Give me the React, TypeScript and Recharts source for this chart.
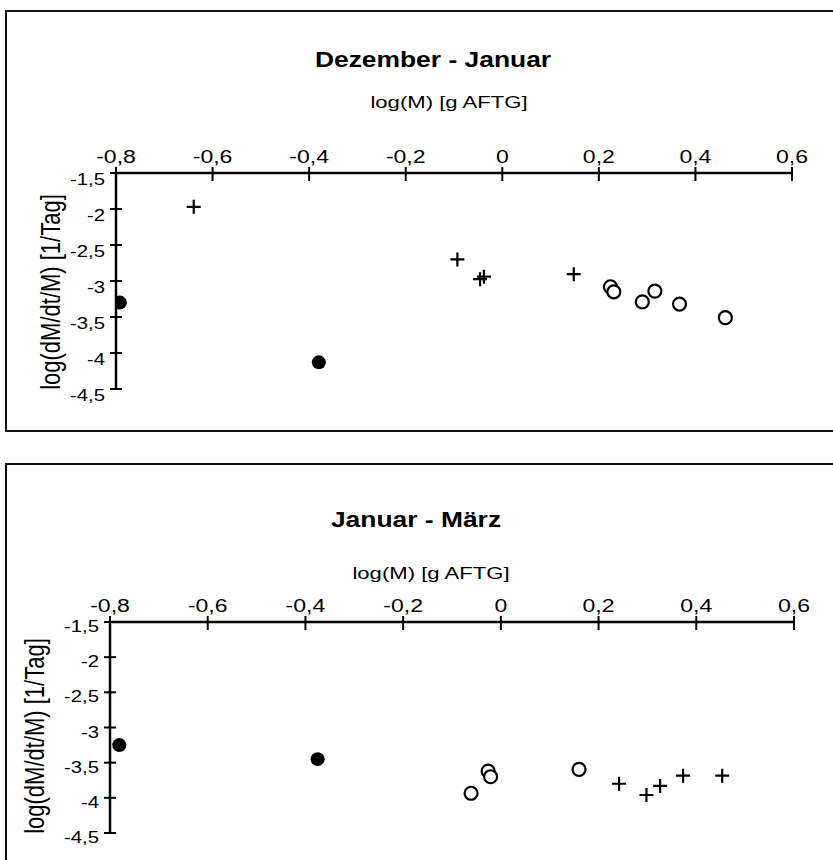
import React from 'react';
import { ScatterChart, Scatter, XAxis, YAxis } from 'recharts';

const xTicks = [-0.8, -0.6, -0.4, -0.2, 0, 0.2, 0.4, 0.6];
const yTicks = [-4.5, -4, -3.5, -3, -2.5, -2, -1.5];
const xTitle = 'log(M) [g AFTG]';
const yTitle = 'log(dM/dt/M) [1/Tag]';

// Dezember - Januar
const decFilled = [
  { x: -0.792, y: -3.3 },
  { x: -0.38, y: -4.13 },
];
const decCross = [
  { x: -0.639, y: -1.97 },
  { x: -0.093, y: -2.7 },
  { x: -0.046, y: -2.975 },
  { x: -0.038, y: -2.94 },
  { x: 0.148, y: -2.905 },
];
const decOpen = [
  { x: 0.224, y: -3.08 },
  { x: 0.231, y: -3.15 },
  { x: 0.29, y: -3.29 },
  { x: 0.316, y: -3.14 },
  { x: 0.367, y: -3.32 },
  { x: 0.462, y: -3.51 },
];

// Januar - März
const janFilled = [
  { x: -0.781, y: -3.25 },
  { x: -0.375, y: -3.45 },
];
const janOpen = [
  { x: -0.061, y: -3.935 },
  { x: -0.026, y: -3.62 },
  { x: -0.021, y: -3.7 },
  { x: 0.16, y: -3.595 },
];
const janCross = [
  { x: 0.242, y: -3.8 },
  { x: 0.298, y: -3.96 },
  { x: 0.326, y: -3.83 },
  { x: 0.373, y: -3.685 },
  { x: 0.453, y: -3.685 },
];

const FONT = '"Liberation Sans", Arial, Helvetica, sans-serif';
const fmt = (v: number) => String(v).replace('.', ',');

const XTick = (props: any) => {
  const { x, y, payload } = props;
  return (
    <g>
      <line x1={x} x2={x} y1={y - 6} y2={y + 8} stroke="#000" strokeWidth={2} />
      <text
        transform={`translate(${x},${y - 10}) scale(1.28,1)`}
        textAnchor="middle"
        fontSize={18}
        fontFamily={FONT}
        fill="#000"
      >
        {fmt(payload.value)}
      </text>
    </g>
  );
};

const makeYTick = (dy: number) => (props: any) => {
  const { x, y, payload } = props;
  return (
    <g>
      <line x1={x - 6} x2={x + 6} y1={y} y2={y} stroke="#000" strokeWidth={2} />
      <text
        transform={`translate(${x - 11},${y + dy}) scale(1.27,1)`}
        textAnchor="end"
        fontSize={16}
        fontFamily={FONT}
        fill="#000"
      >
        {fmt(payload.value)}
      </text>
    </g>
  );
};

const Cross = (props: any) => {
  const { cx, cy } = props;
  return (
    <path
      d={`M${cx - 7},${cy}H${cx + 7}M${cx},${cy - 7}V${cy + 7}`}
      stroke="#000"
      strokeWidth={2.2}
      fill="none"
    />
  );
};
const OpenDot = (props: any) => (
  <circle cx={props.cx} cy={props.cy} r={6.5} fill="#fff" stroke="#000" strokeWidth={2.2} />
);
const FilledDot = (props: any) => (
  <circle cx={props.cx} cy={props.cy} r={7} fill="#000" />
);

interface PanelProps {
  top: number;
  height: number;
  boxTop: number;
  boxHeight: number;
  title: string;
  titlePos: [number, number];
  subPos: [number, number];
  yLabelPos: [number, number];
  plot: { left: number; right: number; top: number; bottom: number };
  yTickDy: number;
  filled: { x: number; y: number }[];
  open: { x: number; y: number }[];
  cross: { x: number; y: number }[];
}

function Panel(p: PanelProps) {
  const W = 833;
  const xh = 40;
  const yw = 60;
  return (
    <div style={{ position: 'absolute', left: 0, top: p.top, width: W, height: p.height }}>
      <div
        style={{
          position: 'absolute',
          left: 5,
          top: p.boxTop,
          width: 860,
          height: p.boxHeight,
          border: '2px solid #111',
          boxSizing: 'border-box',
        }}
      />
      <div
        style={{
          position: 'absolute',
          left: p.titlePos[0],
          top: p.titlePos[1],
          transform: 'translate(-50%,-50%) scaleX(1.2)',
          fontFamily: FONT,
          fontWeight: 'bold',
          fontSize: 22,
          whiteSpace: 'nowrap',
          lineHeight: 1,
        }}
      >
        {p.title}
      </div>
      <div
        style={{
          position: 'absolute',
          left: p.subPos[0],
          top: p.subPos[1],
          transform: 'translate(-50%,-50%) scaleX(1.3)',
          fontFamily: FONT,
          fontSize: 17,
          whiteSpace: 'nowrap',
          lineHeight: 1,
        }}
      >
        {xTitle}
      </div>
      <div
        style={{
          position: 'absolute',
          left: p.yLabelPos[0],
          top: p.yLabelPos[1],
          transform: 'translate(-50%,-50%) rotate(-90deg) scaleY(1.27)',
          fontFamily: FONT,
          fontSize: 22,
          whiteSpace: 'nowrap',
          lineHeight: 1,
        }}
      >
        {yTitle}
      </div>
      <div style={{ position: 'absolute', left: 0, top: 0 }}>
        <ScatterChart
          width={W}
          height={p.height}
          margin={{
            top: p.plot.top - xh,
            left: p.plot.left - yw,
            right: W - p.plot.right,
            bottom: p.height - p.plot.bottom,
          }}
        >
          <XAxis
            type="number"
            dataKey="x"
            orientation="top"
            height={xh}
            domain={[-0.8, 0.6]}
            ticks={xTicks}
            allowDataOverflow
            tickSize={0}
            tickMargin={0}
            tickLine={false}
            axisLine={{ stroke: '#000', strokeWidth: 2.5 }}
            tick={XTick}
            interval={0}
          />
          <YAxis
            type="number"
            dataKey="y"
            width={yw}
            domain={[-4.5, -1.5]}
            ticks={yTicks}
            allowDataOverflow
            tickSize={0}
            tickMargin={0}
            tickLine={false}
            axisLine={{ stroke: '#000', strokeWidth: 2.5 }}
            tick={makeYTick(p.yTickDy)}
            interval={0}
          />
          <Scatter data={p.filled} shape={FilledDot} isAnimationActive={false} />
          <Scatter data={p.open} shape={OpenDot} isAnimationActive={false} />
          <Scatter data={p.cross} shape={Cross} isAnimationActive={false} />
        </ScatterChart>
      </div>
    </div>
  );
}

export default function App() {
  return (
    <div
      style={{
        position: 'absolute',
        left: 0,
        top: 0,
        width: 833,
        height: 860,
        overflow: 'hidden',
        background: '#fff',
      }}
    >
      <Panel
        top={0}
        height={440}
        boxTop={10}
        boxHeight={422}
        title="Dezember - Januar"
        titlePos={[433, 60]}
        subPos={[449, 102]}
        yLabelPos={[51, 292]}
        plot={{ left: 116, right: 792, top: 173, bottom: 389 }}
        yTickDy={12}
        filled={decFilled}
        open={decOpen}
        cross={decCross}
      />
      <Panel
        top={440}
        height={420}
        boxTop={23}
        boxHeight={440}
        title="Januar - März"
        titlePos={[416, 80]}
        subPos={[431, 133]}
        yLabelPos={[35, 296]}
        plot={{ left: 110, right: 794, top: 182, bottom: 393 }}
        yTickDy={10}
        filled={janFilled}
        open={janOpen}
        cross={janCross}
      />
    </div>
  );
}
